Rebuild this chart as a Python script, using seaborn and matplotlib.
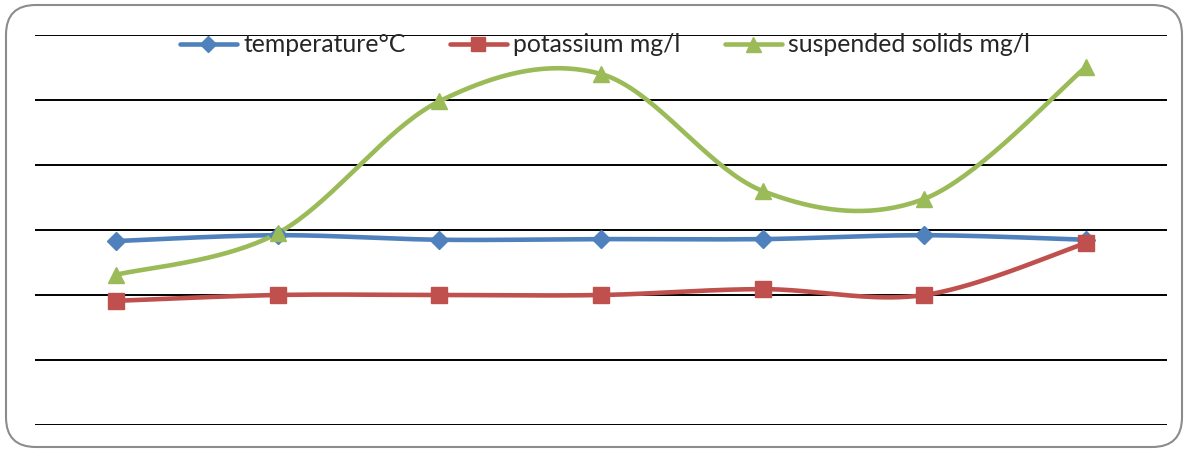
import numpy as np
import pandas as pd
import matplotlib
matplotlib.use("Agg")
import matplotlib.pyplot as plt
import seaborn as sns
from matplotlib.lines import Line2D
from matplotlib.patches import FancyBboxPatch

# values (y grid: 0..60, step 10)
stations = ["1", "2", "3", "4", "5", "6", "7"]
temperature = [28.3, 29.2, 28.5, 28.6, 28.6, 29.2, 28.5]
potassium = [19.1, 20.0, 20.0, 20.0, 20.9, 20.0, 28.0]
suspended = [23.1, 29.5, 49.8, 54.0, 36.0, 34.8, 55.1]

labels = ["temperature°C", "potassium mg/l", "suspended solids mg/l"]
colors = ["#4F81BD", "#C0504D", "#9BBB59"]
markers = ["D", "s", "^"]
msizes = [9, 11, 12]


def smooth(y, n=40):
    # Excel-style smoothed line (Catmull-Rom through the points)
    y = np.asarray(y, float)
    x = np.arange(len(y), dtype=float)
    xp = np.concatenate([[x[0]], x, [x[-1]]])
    yp = np.concatenate([[y[0]], y, [y[-1]]])
    xs, ys = [], []
    for i in range(len(y) - 1):
        p0, p1, p2, p3 = (np.array([xp[j], yp[j]]) for j in range(i, i + 4))
        c1 = p1 + (p2 - p0) / 6
        c2 = p2 - (p3 - p1) / 6
        t = np.linspace(0, 1, n)[:, None]
        pts = (1 - t) ** 3 * p1 + 3 * (1 - t) ** 2 * t * c1 + 3 * (1 - t) * t ** 2 * c2 + t ** 3 * p2
        xs.extend(pts[:, 0])
        ys.extend(pts[:, 1])
    return np.array(xs), np.array(ys)


sns.set_theme(style="white")
plt.rcParams["font.family"] = ["Lato", "DejaVu Sans"]

fig = plt.figure(figsize=(11.88, 4.53), dpi=100)
ax = fig.add_axes([35 / 1188, 28 / 453, (1167 - 35) / 1188, 390 / 453])

for vals, lab, col, mk, ms in zip([temperature, potassium, suspended], labels, colors, markers, msizes):
    sx, sy = smooth(vals)
    sns.lineplot(x=sx, y=sy, ax=ax, color=col, linewidth=3.3, sort=False, zorder=2)
    df = pd.DataFrame({"x": np.arange(len(stations)), "y": vals})
    ax.plot(df["x"], df["y"], linestyle="none", marker=mk, markersize=ms,
            color=col, markeredgecolor=col, zorder=3)

ax.set_xlim(-0.5, len(stations) - 0.5)
ax.set_ylim(0, 60)
ax.set_yticks(np.arange(0, 61, 10))
ax.set_xticks([])
ax.set_yticklabels([])
ax.yaxis.grid(True, color="black", linewidth=1.4)
ax.set_axisbelow(True)
for s in ax.spines.values():
    s.set_visible(False)
ax.tick_params(left=False, bottom=False)

handles = [Line2D([0], [0], color=c, lw=3.3, marker=m, markersize=ms * 0.9, markeredgecolor=c)
           for c, m, ms in zip(colors, markers, msizes)]
fig.legend(handles, labels, loc="center", bbox_to_anchor=(605 / 1188, 1 - 45 / 453),
           ncol=3, frameon=False, fontsize=17.8, handlelength=2.3, handletextpad=0.25,
           columnspacing=1.8, borderpad=0, borderaxespad=0)

border = FancyBboxPatch((6 / 1188, 6 / 453), 1176 / 1188, 442 / 453,
                        boxstyle="round,pad=0,rounding_size=0.025",
                        transform=fig.transFigure, fill=False,
                        edgecolor="#8c8c8c", linewidth=1.5, mutation_aspect=1188 / 453)
fig.patches.append(border)

fig.savefig("out.png", dpi=100)
